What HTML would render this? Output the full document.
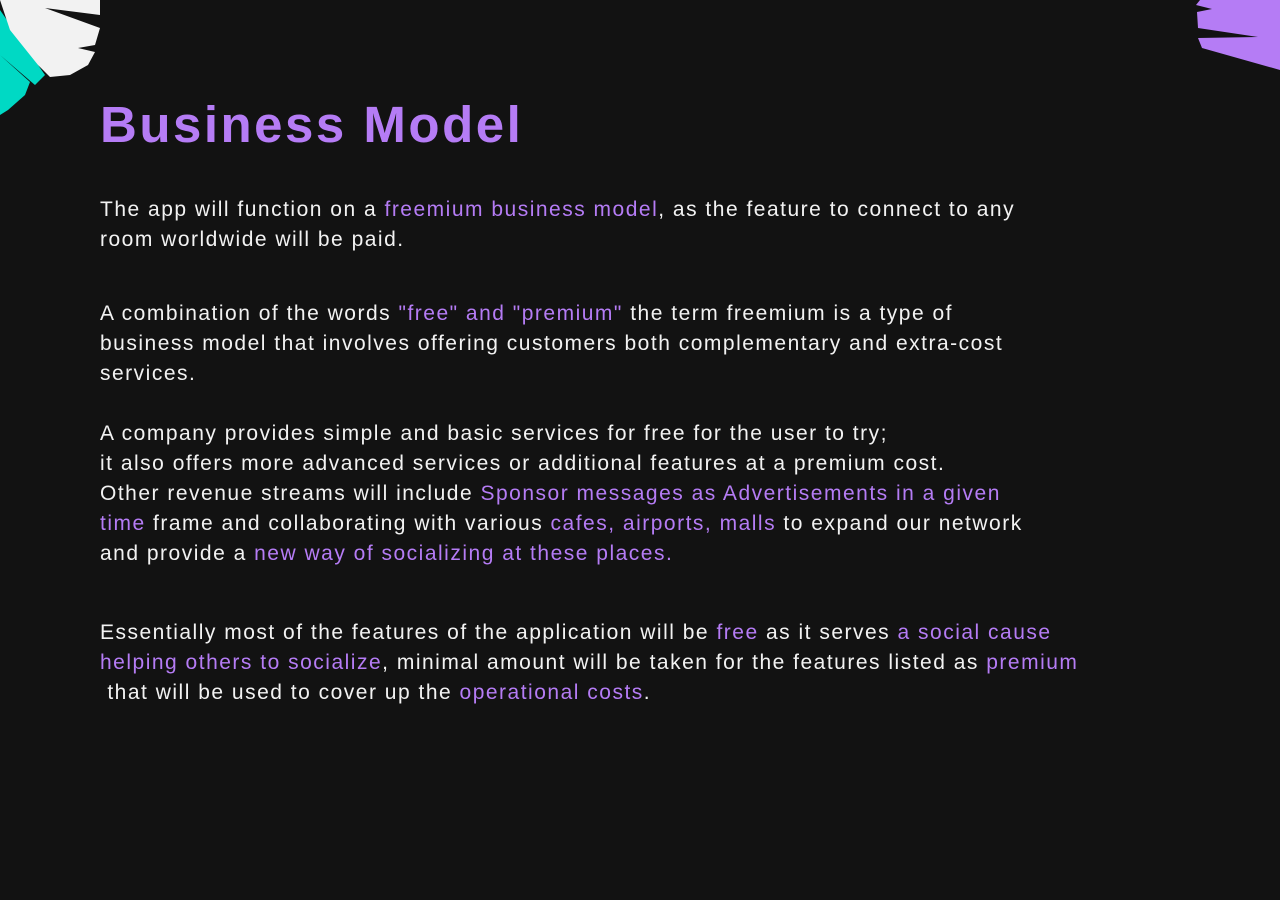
<!DOCTYPE html>
<html><head><meta charset="utf-8"><style>
html,body{margin:0;padding:0;background:#121212;width:1280px;height:900px;overflow:hidden;position:relative;font-family:"Liberation Sans",sans-serif}
.l{position:absolute;left:100px;white-space:nowrap;color:#f2f2f2;font-size:21px;letter-spacing:1.5px;line-height:30px;height:30px}
.h{color:#b57cf5}
#title{position:absolute;left:100px;top:92px;font-size:51px;font-weight:bold;color:#b57cf5;letter-spacing:2.5px;line-height:66px;white-space:nowrap}
</style></head><body>
<svg width="110" height="120" style="position:absolute;left:0;top:0">
<path d="M0,10 L45,75 L35,85 L0,55 Z M0,55 L30,82 L25,95 L8,110 L0,115 Z" fill="#00d9c4"/>
<path d="M0,0 L100,0 L100,15 L45,8 L100,28 L95,45 L78,48 L95,52 L88,65 L70,75 L50,77 L38,65 L10,30 Z" fill="#f2f2f2"/>
</svg>
<svg width="90" height="75" style="position:absolute;left:1190px;top:0">
<path d="M10,0 L90,0 L90,70 L12,48 L8,38 L68,37 L8,28 L7,12 L22,9 L6,5 Z" fill="#b57cf5"/>
</svg>
<div id="title">Business Model</div>
<div class="l" style="top:195px">The app will function on a <span class="h">freemium business model</span>, as the feature to connect to any</div>
<div class="l" style="top:225px">room worldwide will be paid.</div>
<div class="l" style="top:299px">A combination of the words <span class="h">"free" and "premium"</span> the term freemium is a type of</div>
<div class="l" style="top:329px">business model that involves offering customers both complementary and extra-cost</div>
<div class="l" style="top:359px">services.</div>
<div class="l" style="top:419px">A company provides simple and basic services for free for the user to try;</div>
<div class="l" style="top:449px">it also offers more advanced services or additional features at a premium cost.</div>
<div class="l" style="top:479px">Other revenue streams will include <span class="h">Sponsor messages as Advertisements in a given</span></div>
<div class="l" style="top:509px"><span class="h">time</span> frame and collaborating with various <span class="h">cafes, airports, malls</span> to expand our network</div>
<div class="l" style="top:539px">and provide a <span class="h">new way of socializing at these places.</span></div>
<div class="l" style="top:618px">Essentially most of the features of the application will be <span class="h">free</span> as it serves <span class="h">a social cause</span></div>
<div class="l" style="top:648px"><span class="h">helping others to socialize</span>, minimal amount will be taken for the features listed as <span class="h">premium</span></div>
<div class="l" style="top:678px">&nbsp;that will be used to cover up the <span class="h">operational costs</span>.</div>
</body></html>
